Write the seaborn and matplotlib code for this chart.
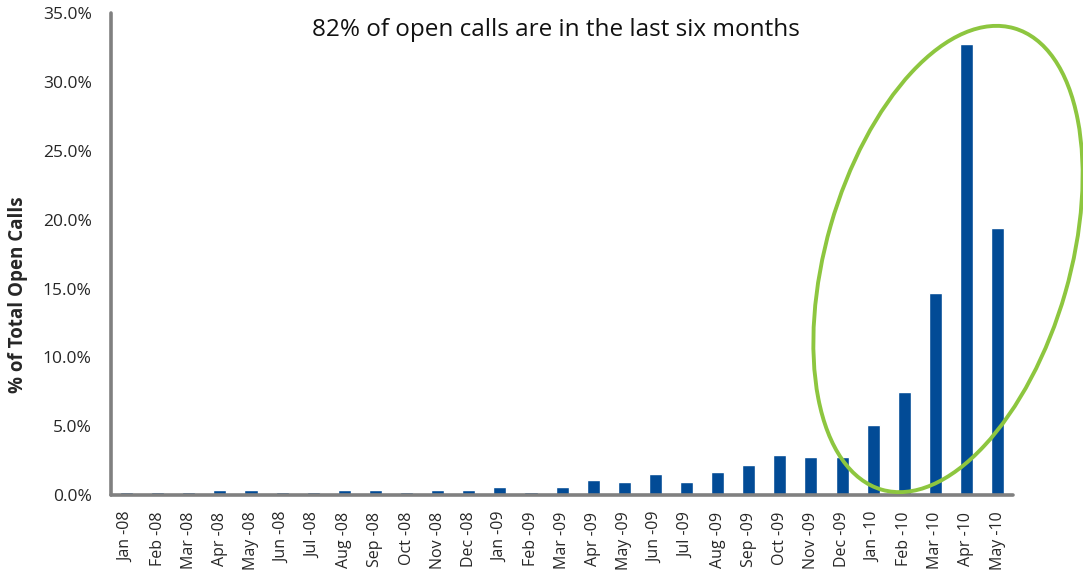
import numpy as np
import matplotlib
matplotlib.use("Agg")
import matplotlib.pyplot as plt
from matplotlib.patches import Ellipse
from matplotlib.ticker import PercentFormatter
import seaborn as sns

# data (percent of total open calls)
months = ["Jan -08", "Feb -08", "Mar -08", "Apr -08", "May -08", "Jun -08", "Jul -08",
          "Aug -08", "Sep -08", "Oct -08", "Nov -08", "Dec -08",
          "Jan -09", "Feb -09", "Mar -09", "Apr -09", "May -09", "Jun -09", "Jul -09",
          "Aug -09", "Sep -09", "Oct -09", "Nov -09", "Dec -09",
          "Jan -10", "Feb -10", "Mar -10", "Apr -10", "May -10"]
pct = [0.2, 0.2, 0.2, 0.4, 0.4, 0.2, 0.2, 0.4, 0.4, 0.2, 0.4, 0.4,
       0.6, 0.2, 0.6, 1.1, 0.95, 1.5, 0.95, 1.7, 2.2, 2.9, 2.75, 2.75,
       5.1, 7.5, 14.7, 32.8, 19.4]
yticks = [0, 5, 10, 15, 20, 25, 30, 35]

title = "82% of open calls are in the last six months"
ylabel = "% of Total Open Calls"

sns.set_style("white")
plt.rcParams["font.family"] = ["Open Sans", "DejaVu Sans"]

gray = "#808080"
blue = "#024B96"

fig = plt.figure(figsize=(10.83, 5.75), dpi=100)
ax = fig.add_axes([0.1025, 0.139, 0.833, 0.838])

sns.barplot(x=months, y=pct, color=blue, width=0.42, saturation=1, ax=ax)

ax.set_xlim(-0.5, len(months) - 0.5)
ax.set_ylim(0, 35)
ax.set_yticks(yticks)
ax.yaxis.set_major_formatter(PercentFormatter(decimals=1))

sns.despine(ax=ax)
for s in ["left", "bottom"]:
    ax.spines[s].set_color(gray)
    ax.spines[s].set_linewidth(2.6)
    ax.spines[s].set_capstyle("round")

# tick marks between categories, labels centred on bars
ax.set_xticks(np.arange(-0.5, len(months), 1), minor=True)
ax.tick_params(axis="x", which="major", length=0, pad=12, labelsize=11.5, labelrotation=90)
ax.tick_params(axis="x", which="minor", length=5, width=2.4, color=gray, direction="out")
ax.tick_params(axis="y", length=5, width=2.4, color=gray, labelsize=12.5, pad=9)
for t in ax.xaxis.get_minorticklines() + ax.yaxis.get_majorticklines():
    t.set_solid_capstyle("round")

ax.set_ylabel(ylabel, fontsize=13.5, fontweight="bold", labelpad=10)
ax.yaxis.set_label_coords(-0.092, 0.415)
ax.text(0.493, 0.965, title, transform=ax.transAxes, ha="center", va="center",
        fontsize=17.5, color="#111111")

# green highlight ring round the last six months
ring = Ellipse((9.48, 3.16), 2.44, 4.80, angle=-16, transform=fig.dpi_scale_trans,
               fill=False, edgecolor="#8DC63F", linewidth=2.8, clip_on=False)
fig.add_artist(ring)

fig.savefig("out.png", dpi=100)
